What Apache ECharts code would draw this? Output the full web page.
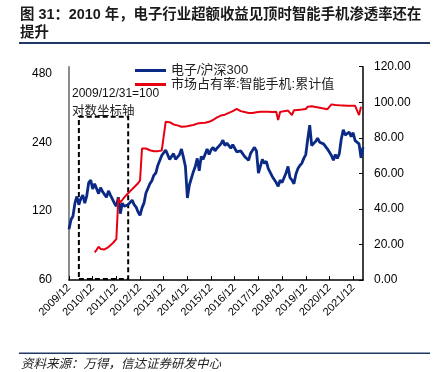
<!DOCTYPE html>
<html><head><meta charset="utf-8">
<script src="https://cdn.jsdelivr.net/npm/echarts@6/dist/echarts.min.js"></script>
<style>html,body{margin:0;padding:0;background:#fff}#c{width:438px;height:372px}</style>
</head><body><div id="c"></div>
<script>
// ---- data ----
const categories = [];
for (let i = 0; i < 150; i++) {
  const y = 2009 + Math.floor((11 + i) / 12);
  const m = ((11 + i) % 12) + 1;
  categories.push(y + '/' + (m < 10 ? '0' + m : m));
}
const yearTickLabels = ['2009/12','2010/12','2011/12','2012/12','2013/12','2014/12','2015/12','2016/12','2017/12','2018/12','2019/12','2020/12','2021/12'];
const leftAxisLabels = [60, 120, 240, 480];
const rightAxisLabels = [0, 20, 40, 60, 80, 100, 120];

// 电子/沪深300 (2009/12/31=100)
const blueRatio = [
  100,110,114,130,139,128,136,141,130,140,
  160,164,150,158,155,143,152,146,145,138,
  147,141,140,130,126,138,117,130,126,124,
  128,126,134,128,125,119,115,124,130,144,
  146,158,163,172,176,190,192,210,206,222,
  220,202,206,214,202,204,212,224,206,188,
  137,156,158,178,188,204,180,208,202,204,
  224,212,222,228,220,226,222,236,245,232,
  238,242,226,234,232,218,222,220,214,208,
  206,200,214,216,228,220,176,178,202,194,
  198,184,184,170,170,160,154,164,160,158,
  176,188,168,164,158,174,184,190,194,204,
  212,248,285,232,228,242,250,240,240,236,
  238,224,224,210,200,212,204,214,248,272,
  258,258,266,254,264,244,242,236,205,228
];
// 市场占有率:智能手机:累计值
const redShare = [
  null,null,null,null,null,null,null,null,null,null,
  null,null,null,15.5,17,18.7,17.5,16.9,17.2,17.8,
  18.5,19.5,20.5,21.8,23,46,43.5,45,46.5,47.5,
  48.8,50,51,52.2,53.3,54.4,56,74,74.5,74,
  73.5,73,72.6,72.4,72.2,72.5,72.5,72.8,73,89,
  89.2,88.8,88,87.5,87.2,87,86.5,86.2,86.2,86.3,
  86.5,86.8,87,87.2,87.5,88,88.1,88.3,88.4,88.5,
  88.5,89,89.5,90,91,91.5,92,92.5,92.8,93,
  93.5,94,94.5,95,95.3,96.3,96,95,94.7,94.5,
  94.3,94,94,94,94.2,94.4,94.6,94.7,94.7,94.7,
  94.6,94.6,94.6,94.5,94.5,94.6,90,94.5,94.8,95,
  95.3,95.3,95.6,92.8,95.5,95.6,95.7,95.8,95.9,96,
  96.2,97.5,97.9,97.7,97.5,97.3,97.1,96.9,96.7,96.5,
  96.3,96.1,96,98.8,98.6,98.5,98.4,98.3,98.3,98.2,
  98.2,98.1,98.1,98,98,98,98,92.8,97.5,null
];
// annotation box (data coordinates)
const boxFrom = '2010/05', boxTo = '2012/06', boxTopValue = 310;

// ---- chart ----
const base = 60;
const toLog = v => v == null ? null : Math.log2(v / base);
const FONT = 'Liberation Sans, Arial, "Noto Sans CJK SC", sans-serif';
const chart = echarts.init(document.getElementById('c'), null, {renderer: 'canvas'});
chart.setOption({
  animation: false,
  backgroundColor: '#fff',
  textStyle: {fontFamily: FONT},
  grid: {left: 69, right: 75, top: 66.7, bottom: 92, containLabel: false},
  legend: {
    orient: 'vertical', left: 130, top: 59, itemGap: 1,
    itemWidth: 31, itemHeight: 3, icon: 'rect',
    textStyle: {fontSize: 13, color: '#222', fontFamily: FONT},
    data: ['电子/沪深300', '市场占有率:智能手机:累计值']
  },
  xAxis: {
    type: 'category', data: categories, boundaryGap: false,
    axisLine: {lineStyle: {color: '#000', width: 1.5}},
    axisTick: {inside: true, length: 4, interval: (i, v) => yearTickLabels.includes(v), lineStyle: {color: '#000'}},
    axisLabel: {interval: (i, v) => yearTickLabels.includes(v), rotate: 45, fontSize: 11, color: '#000', margin: 6},
    splitLine: {show: false}
  },
  yAxis: [{
    type: 'value', min: 0, max: 3.096, interval: 1,
    axisLine: {show: true, lineStyle: {color: '#666', width: 1.5}},
    axisTick: {show: false},
    splitLine: {show: false},
    axisLabel: {
      fontSize: 12, color: '#000', margin: 17,
      formatter: v => {
        const k = Math.round(v);
        if (Math.abs(v - k) > 1e-6) return '';
        const lab = base * Math.pow(2, k);
        return leftAxisLabels.includes(lab) ? String(lab) : '';
      }
    }
  }, {
    type: 'value', position: 'right', min: rightAxisLabels[0], max: rightAxisLabels[rightAxisLabels.length - 1], interval: 20,
    axisLine: {show: true, lineStyle: {color: '#000', width: 1.5}},
    axisTick: {show: true, inside: true, length: 4, lineStyle: {color: '#000'}},
    splitLine: {show: false},
    axisLabel: {fontSize: 12, color: '#000', margin: 11, formatter: v => v.toFixed(2)}
  }],
  series: [{
    name: '电子/沪深300', type: 'line', yAxisIndex: 0,
    data: blueRatio.map(toLog), showSymbol: false, symbol: 'none',
    lineStyle: {color: '#0b2a85', width: 2.8}, itemStyle: {color: '#0b2a85'},
    markArea: {
      silent: true,
      itemStyle: {color: 'rgba(0,0,0,0)', borderColor: '#000', borderWidth: 2, borderType: [5, 3]},
      data: [[{xAxis: boxFrom, yAxis: 0.015}, {xAxis: boxTo, yAxis: toLog(boxTopValue)}]]
    }
  }, {
    name: '市场占有率:智能手机:累计值', type: 'line', yAxisIndex: 1,
    data: redShare, showSymbol: false, symbol: 'none', connectNulls: false,
    lineStyle: {color: '#e60012', width: 2}, itemStyle: {color: '#e60012'}
  }],
  graphic: [
    {type: 'text', left: 20, top: 6, style: {text: '图 31：2010 年，电子行业超额收益见顶时智能手机渗透率还在\n提升', fontSize: 14.4, fontWeight: 'bold', lineHeight: 18, fill: '#1a1a1a', fontFamily: FONT}},
    {type: 'rect', shape: {x: 19, y: 42, width: 411, height: 2}, style: {fill: '#1f3864'}},
    {type: 'rect', shape: {x: 19, y: 352.5, width: 411, height: 1.5}, style: {fill: '#1f3864'}},
    {type: 'text', left: 21, top: 358, style: {text: '资料来源：万得，信达证券研发中心', fontSize: 12.5, fontStyle: 'italic', fill: '#222', fontFamily: FONT}},
    {type: 'text', left: 72, top: 88, style: {text: '2009/12/31=100', fontSize: 12, fill: '#111', fontFamily: FONT}},
    {type: 'text', left: 72, top: 105, style: {text: '对数坐标轴', fontSize: 12.5, fill: '#222', fontFamily: FONT}}
  ]
});
</script></body></html>
